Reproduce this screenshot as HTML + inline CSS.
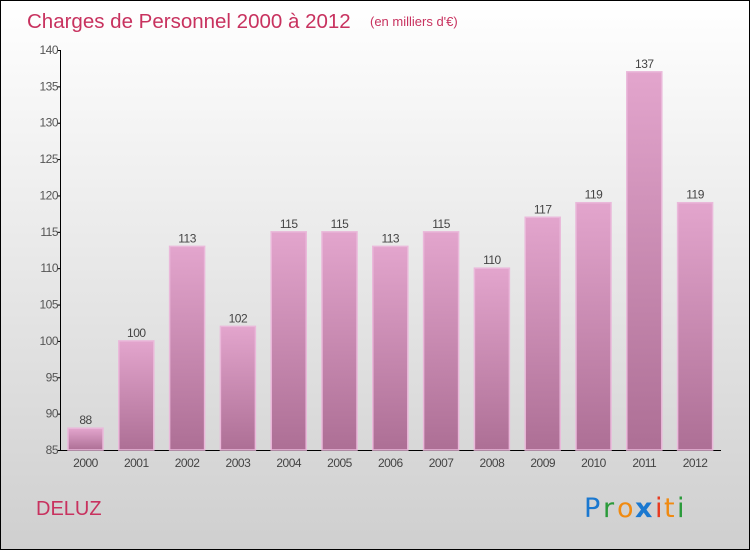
<!DOCTYPE html>
<html><head><meta charset="utf-8"><style>
body{margin:0;width:750px;height:550px;overflow:hidden;font-family:"Liberation Sans",sans-serif}
#c{position:absolute;left:0;top:0;width:748px;height:548px;border:1px solid #000;background:linear-gradient(#ffffff,#cfcfcf)}
</style></head><body>
<div id="c">
<svg width="748" height="548">
<defs><linearGradient id="g" x1="0" y1="0" x2="0" y2="1"><stop offset="0" stop-color="#e3a5cd"/><stop offset="1" stop-color="#ad6f95"/></linearGradient></defs>
<text x="26" y="27" font-size="20.5" fill="#c8325f">Charges de Personnel 2000 à 2012</text>
<text x="369" y="25" font-size="13" fill="#c8325f">(en milliers d'€)</text>
<text x="35" y="514" font-size="20" fill="#c8325f">DELUZ</text>
<g font-size="27" font-family="'DejaVu Sans',sans-serif">
<text x="583" y="516" fill="#1a78d0">P</text><text x="602" y="516" fill="#2a9a3a">r</text><text x="616" y="516" fill="#f08a10">o</text><text x="634" y="516" fill="#1a78d0" font-weight="bold">x</text><text x="654" y="516" fill="#e83a20">i</text><text x="663" y="516" fill="#f08a10">t</text><text x="676" y="516" fill="#2a9a3a">i</text>
</g>
<g id="ax"></g><g id="bars"></g>
</svg></div>
<script>
const categories=["2000","2001","2002","2003","2004","2005","2006","2007","2008","2009","2010","2011","2012"];
const values=[88,100,113,102,115,115,113,115,110,117,119,137,119];
const ticks=[85,90,95,100,105,110,115,120,125,130,135,140];
const NS="http://www.w3.org/2000/svg";
const y0=449,y1=49,vmin=85,vmax=140;
const Y=v=>y0-(v-vmin)/(vmax-vmin)*(y0-y1);
const X=i=>84.5+i*50.8;
function mk(t,a,p){const e=document.createElementNS(NS,t);for(const k in a)e.setAttribute(k,a[k]);p.appendChild(e);return e;}
const ax=document.getElementById('ax'),bars=document.getElementById('bars');
let l=mk('line',{x1:59.5,y1:y1,x2:59.5,y2:y0+0.5,stroke:'#000'},ax);


l=mk('line',{x1:59.5,y1:y0+0.5,x2:720,y2:y0+0.5,stroke:'#000'},ax);


ticks.forEach(t=>{
 const tk=mk('line',{x1:56,x2:60,y1:Y(t)+0.5,y2:Y(t)+0.5,stroke:'#000'},ax);
 
 
 const tx=mk('text',{x:57,y:Y(t)+4,'font-size':12,'text-anchor':'end',fill:'#555','letter-spacing':'-0.5'},ax);
 tx.textContent=t;
 
 
});
categories.forEach((c,i)=>{
 const v=values[i];
 const r=mk('rect',{x:X(i)-17.5,y:Y(v),width:35,height:y0-Y(v),fill:'url(#g)',stroke:'#eab8da','stroke-width':1.5},bars);
 
 
 const vt=mk('text',{x:X(i),y:Y(v)-4,'font-size':12,'text-anchor':'middle',fill:'#444','letter-spacing':'-0.5'},bars);
 vt.textContent=v;
 
 
 const ct=mk('text',{x:X(i),y:466,'font-size':12,'text-anchor':'middle',fill:'#444','letter-spacing':'-0.5'},bars);
 ct.textContent=c;
 
 
});
</script>
</body></html>
